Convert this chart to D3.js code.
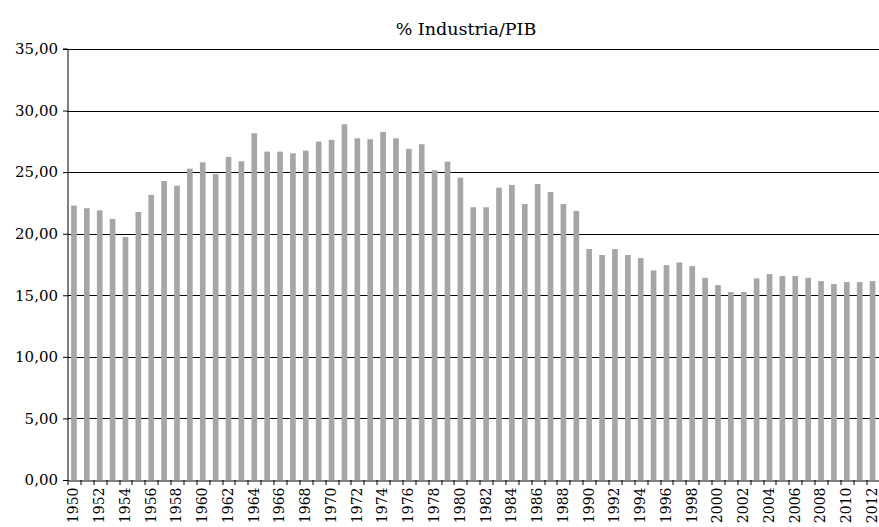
<!DOCTYPE html>
<html>
<head>
<meta charset="utf-8">
<script src="https://cdn.jsdelivr.net/npm/d3@7"></script>
<style>
  body { margin: 0; background: #fff; }
  svg text { font-family: "DejaVu Serif", serif; fill: #000; }
</style>
</head>
<body>
<div id="chart"></div>
<script>
const svgWidth = 879;
const svgHeight = 527;

const margin = { top: 49, right: 0, bottom: 47, left: 67.5 };
const width = svgWidth - margin.left - margin.right;
const height = svgHeight - margin.top - margin.bottom;

// data
const years = d3.range(1950, 2013).map(String);
const values = [
  22.28, 22.07, 21.90, 21.20, 19.73, 21.76, 23.15, 24.28, 23.90, 25.28,
  25.80, 24.85, 26.24, 25.88, 28.16, 26.67, 26.67, 26.53, 26.75, 27.48,
  27.62, 28.89, 27.75, 27.67, 28.27, 27.75, 26.89, 27.27, 25.15, 25.85,
  24.55, 22.15, 22.15, 23.74, 23.96, 22.41, 24.04, 23.39, 22.41, 21.85,
  18.76, 18.27, 18.76, 18.27, 18.02, 17.02, 17.45, 17.67, 17.37, 16.42,
  15.83, 15.26, 15.26, 16.37, 16.72, 16.56, 16.56, 16.42, 16.15, 15.91,
  16.07, 16.07, 16.15
];
const yTicks = [0, 5, 10, 15, 20, 25, 30, 35];
const title = "% Industria/PIB";

const data = years.map((y, i) => ({ year: y, value: values[i] }));

const svg = d3.select("#chart")
  .append("svg")
  .attr("width", svgWidth)
  .attr("height", svgHeight);

const chartGroup = svg.append("g")
  .attr("transform", `translate(${margin.left}, ${margin.top})`);

const x = d3.scaleBand()
  .domain(years)
  .range([0, width])
  .paddingInner(0.56)
  .paddingOuter(0.28);

const y = d3.scaleLinear()
  .domain([0, 35])
  .range([height, 0]);

const fmt = v => d3.format(".2f")(v).replace(".", ",");

// gridlines
chartGroup.append("g")
  .selectAll("line")
  .data(yTicks.filter(d => d > 0))
  .enter()
  .append("line")
  .attr("x1", 0)
  .attr("x2", width)
  .attr("y1", d => Math.round(y(d)) + 0.5)
  .attr("y2", d => Math.round(y(d)) + 0.5)
  .attr("stroke", "#000")
  .attr("stroke-width", 1);

// bars
chartGroup.append("g")
  .selectAll("rect")
  .data(data)
  .enter()
  .append("rect")
  .attr("x", d => x(d.year))
  .attr("y", d => y(d.value))
  .attr("width", x.bandwidth())
  .attr("height", d => height - y(d.value))
  .attr("fill", "#a6a6a6");

// y axis
const leftAxis = d3.axisLeft(y)
  .tickValues(yTicks)
  .tickSize(5)
  .tickPadding(5)
  .tickFormat(fmt);

const yAxis = chartGroup.append("g")
  .attr("transform", "translate(0.5, 0)")
  .call(leftAxis)
  .attr("font-family", null)
  .attr("font-size", null);
yAxis.select(".domain").attr("stroke", "#000").attr("d", `M-5,${y(35)}H0V${height}`);
yAxis.selectAll(".tick line").attr("stroke", "#000");
yAxis.selectAll("text")
  .style("font-size", "15px");

// x axis
const bottomAxis = d3.axisBottom(x)
  .tickSize(0)
  .tickFormat((d, i) => i % 2 === 0 ? d : "");

const xAxis = chartGroup.append("g")
  .attr("transform", `translate(0, ${height + 0.5})`)
  .call(bottomAxis)
  .attr("font-family", null)
  .attr("font-size", null);
xAxis.select(".domain").attr("stroke", "#000");
xAxis.selectAll("text")
  .attr("transform", "rotate(-90)")
  .attr("text-anchor", "end")
  .attr("x", -7)
  .attr("y", -0.5)
  .attr("dy", "0.35em")
  .style("font-size", "14px");

// category boundary ticks
const step = x.step();
chartGroup.append("g")
  .selectAll("line")
  .data(d3.range(years.length + 1))
  .enter()
  .append("line")
  .attr("x1", i => Math.round(i * step) + 0.5)
  .attr("x2", i => Math.round(i * step) + 0.5)
  .attr("y1", height)
  .attr("y2", height + 5)
  .attr("stroke", "#000");

// title
svg.append("text")
  .attr("x", 466)
  .attr("y", 35)
  .attr("text-anchor", "middle")
  .style("font-size", "17.5px")
  .text(title);
</script>
</body>
</html>
